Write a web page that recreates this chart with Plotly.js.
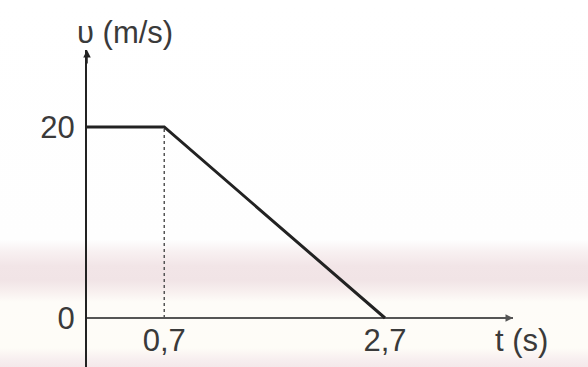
<!DOCTYPE html>
<html>
<head>
<meta charset="utf-8">
<script src="https://cdn.plot.ly/plotly-3.0.1.min.js"></script>
<style>
html,body{margin:0;padding:0;}
body{width:588px;height:367px;overflow:hidden;
background:linear-gradient(to bottom,#ffffff 0px,#fefefe 240px,#f8f0f1 252px,#f2e5e7 266px,#f1e4e6 280px,#f8f0ef 292px,#fefcf8 302px,#fefcf7 348px,#f7eeef 360px,#f4e8ea 367px);}
#chart{width:588px;height:367px;}
</style>
</head>
<body>
<div id="chart"></div>
<script>
// v-t graph data
const timeS = [0, 0.7, 2.7];
const velocity = [20, 20, 0];
const dashT = [0.7, 0.7];
const dashV = [0, 20];
const xTickVals = [0.7, 2.7];
const xTickText = ["0,7", "2,7"];
const yTickVals = [0, 20];
const yTickText = ["0", "20"];

const fnt = {family: "Liberation Sans, Arial, sans-serif", size: 31, color: "#3a3a3a"};

const traces = [
  {x: dashT, y: dashV, mode: "lines", line: {color: "#555", width: 1.5, dash: "dot"}, hoverinfo: "skip"},
  {x: timeS, y: velocity, mode: "lines", line: {color: "#222", width: 3}, hoverinfo: "skip"}
];

const layout = {
  width: 588, height: 367,
  margin: {l: 87, r: 75, t: 50, b: 0},
  paper_bgcolor: "rgba(0,0,0,0)",
  plot_bgcolor: "rgba(0,0,0,0)",
  showlegend: false,
  font: fnt,
  xaxis: {
    range: [0, 3.86], anchor: "free", position: 0.1546,
    showgrid: false, zeroline: false, showline: false,
    tickvals: xTickVals, ticktext: xTickText, ticks: "", ticklabelstandoff: 1,
    tickfont: fnt
  },
  yaxis: {
    range: [-5.13, 28.06],
    showgrid: false, zeroline: true, zerolinecolor: "#555", zerolinewidth: 2,
    showline: true, linecolor: "#222", linewidth: 2,
    tickvals: yTickVals, ticktext: yTickText, ticks: "", ticklabelstandoff: 4,
    tickfont: fnt
  },
  annotations: [
    {x: 0, y: 28.06, ax: 0, ay: 26.5, xref: "x", yref: "y", axref: "x", ayref: "y",
     text: "", showarrow: true, arrowhead: 2, arrowsize: 1, arrowwidth: 1.5, arrowcolor: "#222"},
    {x: 3.86, y: 0, ax: 3.7, ay: 0, xref: "x", yref: "y", axref: "x", ayref: "y",
     text: "", showarrow: true, arrowhead: 2, arrowsize: 1, arrowwidth: 1.5, arrowcolor: "#555"},
    {x: 0.089, y: 1.054, xref: "paper", yref: "paper", text: "υ (m/s)", showarrow: false,
     font: fnt, xanchor: "center", yanchor: "middle"},
    {x: 1.019, y: 0.085, xref: "paper", yref: "paper", text: "t (s)", showarrow: false,
     font: fnt, xanchor: "center", yanchor: "middle"}
  ]
};

Plotly.newPlot("chart", traces, layout, {staticPlot: true, displayModeBar: false});
</script>
</body>
</html>
